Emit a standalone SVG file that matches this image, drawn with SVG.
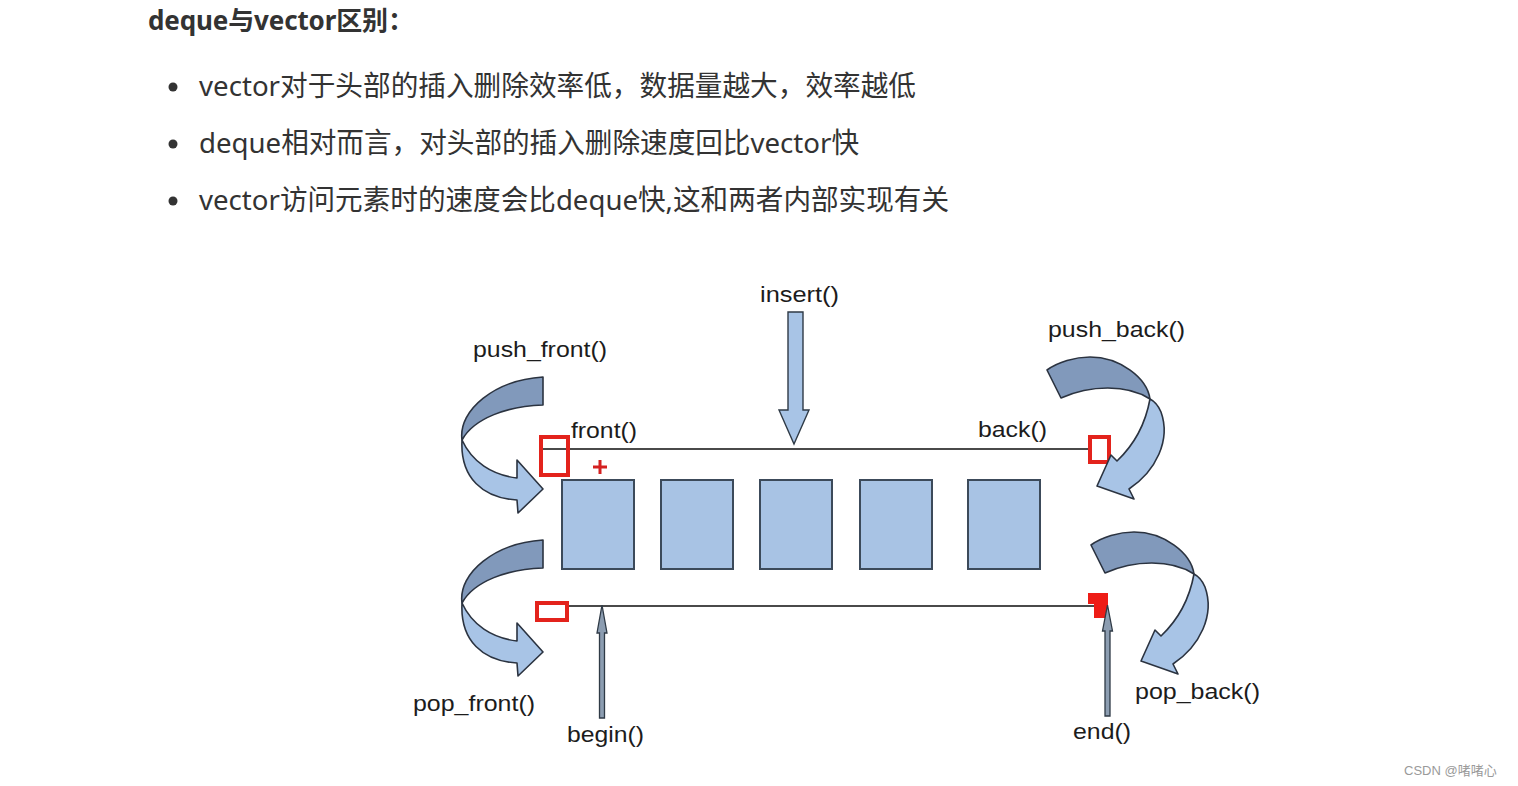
<svg xmlns="http://www.w3.org/2000/svg" width="1518" height="786" viewBox="0 0 1518 786">
<style>
.cn{font-family:"Noto Sans","Noto Sans CJK SC",sans-serif;fill:#333;}
.lbl{font-family:"Liberation Sans",Arial,sans-serif;font-size:22px;fill:#1c1c1c;}
.box{fill:#a8c3e4;stroke:#3c4a5a;stroke-width:2;}
.rail{stroke:#4a4a4a;stroke-width:2.2;fill:none;}
.red{fill:none;stroke:#e3231c;stroke-width:4;}
.back{fill:#8199bb;stroke:#2b3340;stroke-width:1.6;stroke-linejoin:round;}
.front{fill:#a8c4e6;stroke:#2b3340;stroke-width:1.6;stroke-linejoin:round;}
.ptr{fill:#8c9db1;stroke:#2f3a46;stroke-width:1.3;}
</style>
<defs>
<g id="curlL">
<path class="back" d="M543,377 L543,405 C508,406 474,418 462,440 C458,410 495,380 543,377 Z"/>
<path class="front" d="M462,440 C472,462 492,475 517,478 L517,460 L543,489 L518,513 L517,500 C483,498 460,478 462,440 Z"/>
</g>
<g id="curlR">
<path class="back" d="M1047,370 L1061,398 C1090,385 1127,384 1150,399 C1147,378 1120,357 1090,357 C1075,357 1058,362 1047,370 Z"/>
<path class="front" d="M1150,399 C1146,421 1136,443 1117,461 L1111,455 L1097,486 L1134,499 L1129,489 C1156,471 1171,440 1161,412 C1158,405 1154,401 1150,399 Z"/>
</g>
</defs>
<rect width="1518" height="786" fill="#ffffff"/>

<g id="heading">
<text class="cn" x="148" y="30" font-size="26" font-weight="bold" fill="#222" textLength="266">deque与vector区别：</text>
</g>
<g id="bullets">
<circle cx="173" cy="87" r="4.5" fill="#333"/>
<text class="cn" x="199" y="96" font-size="28" textLength="717" lengthAdjust="spacingAndGlyphs">vector对于头部的插入删除效率低，数据量越大，效率越低</text>
<circle cx="173" cy="144" r="4.5" fill="#333"/>
<text class="cn" x="199" y="153" font-size="28" textLength="660" lengthAdjust="spacingAndGlyphs">deque相对而言，对头部的插入删除速度回比vector快</text>
<circle cx="173" cy="201" r="4.5" fill="#333"/>
<text class="cn" x="199" y="210" font-size="28" textLength="750" lengthAdjust="spacingAndGlyphs">vector访问元素时的速度会比deque快,这和两者内部实现有关</text>
</g>

<g id="connectors">
<line class="rail" x1="541" y1="449" x2="1090" y2="449"/>
<line class="rail" x1="569" y1="606" x2="1094" y2="606"/>
</g>

<g id="cells">
<rect class="box" x="562" y="480" width="72" height="89"/>
<rect class="box" x="661" y="480" width="72" height="89"/>
<rect class="box" x="760" y="480" width="72" height="89"/>
<rect class="box" x="860" y="480" width="72" height="89"/>
<rect class="box" x="968" y="480" width="72" height="89"/>
</g>

<g id="markers">
<rect class="red" x="541" y="437" width="27" height="38"/>
<path d="M593,467 H607 M600,460 V474" stroke="#d42020" stroke-width="3" fill="none"/>
<rect class="red" x="1090" y="437" width="19" height="25" fill="#fff"/>
<rect class="red" x="537" y="603" width="30" height="17" fill="#fff"/>
<path d="M1088,593 H1108 V618 H1094 V604 H1088 Z" fill="#ee1c16"/>
</g>

<g id="insert-arrow">
<path d="M788,312 H803 V410 H809 L794,444 L779,410 H788 Z" fill="#a8c4e6" stroke="#2f3a46" stroke-width="1.4"/>
<text class="lbl" x="760" y="302" textLength="79" lengthAdjust="spacingAndGlyphs">insert()</text>
</g>

<g id="push-front">
<use href="#curlL"/>
<text class="lbl" x="473" y="357" textLength="134" lengthAdjust="spacingAndGlyphs">push_front()</text>
</g>

<g id="pop-front">
<use href="#curlL" transform="translate(0,163)"/>
<text class="lbl" x="413" y="711" textLength="122" lengthAdjust="spacingAndGlyphs">pop_front()</text>
</g>

<g id="push-back">
<use href="#curlR"/>
<text class="lbl" x="1048" y="337" textLength="137" lengthAdjust="spacingAndGlyphs">push_back()</text>
</g>

<g id="pop-back">
<use href="#curlR" transform="translate(44,175)"/>
<text class="lbl" x="1135" y="699" textLength="125" lengthAdjust="spacingAndGlyphs">pop_back()</text>
</g>

<g id="front-label">
<text class="lbl" x="571" y="438" textLength="66" lengthAdjust="spacingAndGlyphs">front()</text>
</g>
<g id="back-label">
<text class="lbl" x="978" y="437" textLength="69" lengthAdjust="spacingAndGlyphs">back()</text>
</g>

<g id="begin-arrow">
<path d="M599.5,718 V633 H597 L602,605 L607,633 H604.5 V718 Z" class="ptr"/>
<text class="lbl" x="567" y="742" textLength="77" lengthAdjust="spacingAndGlyphs">begin()</text>
</g>

<g id="end-arrow">
<path d="M1105,716 V631 H1102.5 L1107.5,605 L1112.5,631 H1110 V716 Z" class="ptr"/>
<text class="lbl" x="1073" y="739" textLength="58" lengthAdjust="spacingAndGlyphs">end()</text>
</g>

<g id="watermark">
<text x="1404" y="775" font-family="'Liberation Sans','Noto Sans CJK SC',sans-serif" font-size="13" fill="#9a9a9a">CSDN @啫啫心</text>
</g>
</svg>
